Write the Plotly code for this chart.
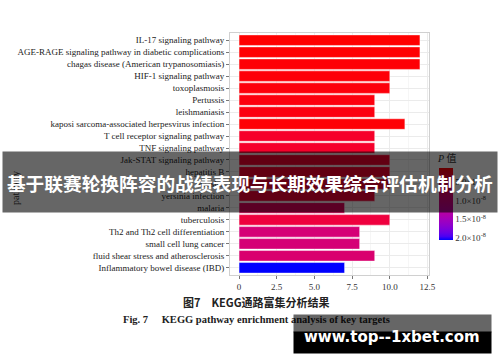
import plotly.graph_objects as go

# ---------------- data ----------------
pathways = [
    "IL-17 signaling pathway",
    "AGE-RAGE signaling pathway in diabetic complications",
    "chagas disease (American trypanosomiasis)",
    "HIF-1 signaling pathway",
    "toxoplasmosis",
    "Pertussis",
    "leishmaniasis",
    "kaposi sarcoma-associated herpesvirus infection",
    "T cell receptor signaling pathway",
    "TNF signaling pathway",
    "Jak-STAT signaling pathway",
    "hepatitis B",
    "measles",
    "yersinia infection",
    "malaria",
    "tuberculosis",
    "Th2 and Th2 cell differentiation",
    "small cell lung cancer",
    "fluid shear stress and atherosclerosis",
    "Inflammatory bowel disease (IBD)",
]
gene_counts = [12, 12, 12, 10, 10, 9, 9, 11, 9, 9, 10, 10, 10, 9, 7, 10, 8, 8, 9, 7]
p_values = [1.4e-9, 1.5e-9, 1.6e-9, 1.7e-9, 1.8e-9, 1.9e-9, 2.0e-9, 1.6e-9,
            3.3e-9, 3.4e-9, 3.6e-9, 3.7e-9, 4.0e-9, 4.2e-9, 7.0e-9, 4.8e-9,
            9.4e-9, 9.4e-9, 8.7e-9, 2.05e-8]

x_tick_vals = [0, 2.5, 5.0, 7.5, 10.0, 12.5]
x_tick_text = ["0", "2.5", "5.0", "7.5", "10.0", "12.5"]
cb_tick_vals = [5.0e-9, 1.0e-8, 1.5e-8, 2.0e-8]
cb_tick_text = ["5.0×10<sup>-9</sup>", "1.0×10<sup>-8</sup>",
                "1.5×10<sup>-8</sup>", "2.0×10<sup>-8</sup>"]

banner_text = "基于联赛轮换阵容的战绩表现与长期效果综合评估机制分析"
caption_cn = "图7　KEGG通路富集分析结果"
caption_en = "Fig. 7　 KEGG pathway enrichment analysis of key targets"
url_text = "www.top--1xbet.com"

# ---------------- colour scale (Lab interpolation blue -> red) ----------------
def srgb_to_lin(c):
    c = c / 255.0
    return c / 12.92 if c <= 0.04045 else ((c + 0.055) / 1.055) ** 2.4

def lin_to_srgb(c):
    c = max(0.0, min(1.0, c))
    v = 12.92 * c if c <= 0.0031308 else 1.055 * c ** (1 / 2.4) - 0.055
    return int(round(v * 255))

def rgb_to_lab(rgb):
    r, g, b = [srgb_to_lin(v) for v in rgb]
    X = (0.4124 * r + 0.3576 * g + 0.1805 * b) / 0.95047
    Y = (0.2126 * r + 0.7152 * g + 0.0722 * b)
    Z = (0.0193 * r + 0.1192 * g + 0.9505 * b) / 1.08883
    f = lambda t: t ** (1 / 3) if t > 0.008856 else 7.787 * t + 16 / 116
    fx, fy, fz = f(X), f(Y), f(Z)
    return (116 * fy - 16, 500 * (fx - fy), 200 * (fy - fz))

def lab_to_rgb(lab):
    L_, a, b = lab
    fy = (L_ + 16) / 116
    fx = fy + a / 500
    fz = fy - b / 200
    finv = lambda t: t ** 3 if t ** 3 > 0.008856 else (t - 16 / 116) / 7.787
    X, Y, Z = finv(fx) * 0.95047, finv(fy), finv(fz) * 1.08883
    r = 3.2406 * X - 1.5372 * Y - 0.4986 * Z
    g = -0.9689 * X + 1.8758 * Y + 0.0415 * Z
    bb = 0.0557 * X - 0.2040 * Y + 1.0570 * Z
    return (lin_to_srgb(r), lin_to_srgb(g), lin_to_srgb(bb))

lab_lo = rgb_to_lab((0, 0, 255))
lab_hi = rgb_to_lab((255, 0, 0))
colorscale = []
n = 20
for i in range(n + 1):
    t = i / n
    lab = tuple(lab_lo[k] + (lab_hi[k] - lab_lo[k]) * t for k in range(3))
    r, g, b = lab_to_rgb(lab)
    colorscale.append([t, f"rgb({r},{g},{b})"])

# negative values so that small p is drawn at the top of the colour bar
neg_p = [-v for v in p_values]

# ---------------- layout helpers (pixel -> paper) ----------------
L, R, T, B = 230, 429, 33, 275
W, H = R - L, B - T
def px(x):
    return (x - L) / W
def py(y):
    return (B - y) / H

serif = "Liberation Serif, Times New Roman, serif"

fig = go.Figure()
fig.add_trace(go.Bar(
    x=gene_counts,
    y=pathways,
    orientation="h",
    width=0.88,
    marker=dict(
        color=neg_p,
        colorscale=colorscale,
        cmin=min(neg_p),
        cmax=max(neg_p),
        line=dict(color="rgba(255,255,255,0.45)", width=1),
        colorbar=dict(
            x=px(439), xanchor="left", xpad=0,
            y=py(204), yanchor="middle", ypad=0,
            len=72 / H, lenmode="fraction",
            thickness=14, outlinewidth=0,
            tickvals=[-v for v in cb_tick_vals],
            ticktext=cb_tick_text,
            ticks="",
            tickfont=dict(family=serif, size=9, color="#333333"),
        ),
    ),
    showlegend=False,
))

fig.update_layout(
    width=500, height=362,
    margin=dict(l=L, r=500 - R, t=T, b=362 - B),
    paper_bgcolor="white",
    plot_bgcolor="white",
    xaxis=dict(
        range=[-0.6, 12.6],
        tickvals=x_tick_vals,
        ticktext=x_tick_text,
        showgrid=True, gridcolor="#EBEBEB", gridwidth=1,
        minor=dict(showgrid=True, gridcolor="#F6F6F6", dtick=1.25, tick0=1.25),
        zeroline=False,
        showline=True, linecolor="#D0D0D0", linewidth=1, mirror=True,
        ticks="outside", ticklen=3, tickcolor="#777777",
        tickfont=dict(family=serif, size=9, color="#333333"),
    ),
    yaxis=dict(
        categoryorder="array",
        categoryarray=pathways,
        range=[len(pathways) - 0.4, -0.6],
        showgrid=True, gridcolor="#EBEBEB", gridwidth=1,
        zeroline=False,
        showline=True, linecolor="#D0D0D0", linewidth=1, mirror=True,
        ticks="outside", ticklen=3, tickcolor="#777777",
        tickfont=dict(family=serif, size=9, color="#222222"),
    ),
)

def ann(text, x, y, **kw):
    d = dict(text=text, x=px(x), y=py(y), xref="paper", yref="paper",
             xanchor="center", yanchor="middle", showarrow=False)
    d.update(kw)
    return d

annotations = [
    # colour bar title
    ann("<i>P</i> 值", 447, 158,
        font=dict(family="Liberation Serif, Noto Sans CJK SC", size=10, color="#333333")),
    # y-axis title
    ann("pathway", 15, 188, textangle=-90,
        font=dict(family=serif, size=10, color="#333333")),
    # captions
    ann("<b>" + caption_cn + "</b>", 256, 302,
        font=dict(family="Noto Sans CJK SC", size=11, color="#222222")),
    ann("<b>" + caption_en + "</b>", 256, 319,
        font=dict(family=serif, size=10.5, color="#222222")),
    # banner overlay
    ann("<b>" + banner_text + "</b>", 250, 182, width=494, height=60,
        bgcolor="rgba(0,0,0,0.6)", borderpad=0,
        font=dict(family="Noto Sans CJK SC", size=18.7, color="white")),
    # url box (translucent top part, solid bottom part)
    ann(" ", 392.5, 323.5, width=197, height=17, bgcolor="rgba(0,0,0,0.6)",
        borderpad=0, font=dict(size=8)),
    ann(" ", 392.5, 342.5, width=197, height=21, bgcolor="black",
        borderpad=0, font=dict(size=8)),
    ann("<b>" + url_text + "</b>", 391.5, 337,
        font=dict(family="DejaVu Sans", size=15, color="white")),
]
fig.update_layout(annotations=annotations)

fig.write_html("out.html")
